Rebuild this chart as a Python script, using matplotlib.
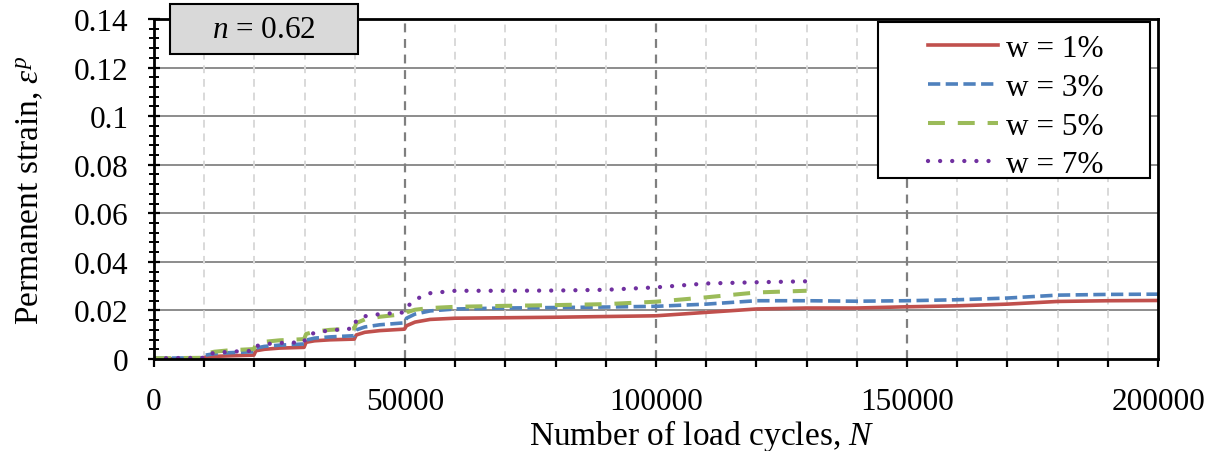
import matplotlib
matplotlib.use('Agg')
import matplotlib.pyplot as plt
from matplotlib.ticker import MultipleLocator, FuncFormatter
from matplotlib.patches import Rectangle

plt.rcParams['font.family'] = ['Liberation Serif', 'DejaVu Serif']
plt.rcParams['mathtext.fontset'] = 'custom'
plt.rcParams['mathtext.rm'] = 'Liberation Serif'
plt.rcParams['mathtext.it'] = 'Liberation Serif:italic'

# load cycles (shared for first 130000 cycles)
cycles = [0, 9900, 10300, 12000, 15000, 19900, 20300, 22000, 25000, 29900,
          30300, 32000, 35000, 39900, 40300, 42000, 45000, 49900, 50300,
          52000, 55000, 60000, 70000, 80000, 90000, 100000, 110000, 120000, 130000]
cycles_long = cycles + [140000, 150000, 160000, 170000, 180000, 190000, 200000]

w1 = [0.0, 0.0003, 0.0008, 0.0011, 0.0013, 0.0016, 0.0034, 0.0040, 0.0045, 0.0048,
      0.0069, 0.0075, 0.0079, 0.0082, 0.0099, 0.0110, 0.0117, 0.0123, 0.0137,
      0.0152, 0.0163, 0.0168, 0.0170, 0.0172, 0.0175, 0.0178, 0.0192, 0.0206, 0.0210,
      0.0210, 0.0215, 0.0219, 0.0226, 0.0237, 0.0240, 0.0241]
w3 = [0.0003, 0.0005, 0.0016, 0.0022, 0.0026, 0.0030, 0.0045, 0.0052, 0.0057, 0.0062,
      0.0078, 0.0086, 0.0091, 0.0096, 0.0120, 0.0132, 0.0141, 0.0149, 0.0168,
      0.0185, 0.0198, 0.0206, 0.0210, 0.0212, 0.0214, 0.0217, 0.0226, 0.0240, 0.0240,
      0.0238, 0.0240, 0.0244, 0.0251, 0.0263, 0.0266, 0.0267]
w5 = [0.0003, 0.0005, 0.0022, 0.0030, 0.0036, 0.0041, 0.0060, 0.0071, 0.0077, 0.0082,
      0.0103, 0.0113, 0.0120, 0.0126, 0.0148, 0.0163, 0.0174, 0.0185, 0.0192,
      0.0203, 0.0210, 0.0215, 0.0219, 0.0222, 0.0226, 0.0236, 0.0254, 0.0274, 0.0281]
w7 = [0.0003, 0.0005, 0.0018, 0.0025, 0.0030, 0.0034, 0.0053, 0.0061, 0.0066, 0.0069,
      0.0094, 0.0108, 0.0118, 0.0126, 0.0162, 0.0176, 0.0185, 0.0192, 0.0212,
      0.0245, 0.0271, 0.0281, 0.0281, 0.0282, 0.0285, 0.0295, 0.0311, 0.0316, 0.0320]

fs = 22.5
fig = plt.figure(figsize=(12.19, 4.52), dpi=100)
ax = fig.add_axes([0.1263, 0.2035, 0.8237, 0.7523])

# grid
for yv in [0.02, 0.04, 0.06, 0.08, 0.10, 0.12]:
    ax.axhline(yv, color='#8c8c8c', lw=1.4, zorder=1)
for xv in range(10000, 200000, 10000):
    if xv % 50000 == 0:
        ax.axvline(xv, color='#7f7f7f', lw=1.6, ls=(0, (4, 3)), zorder=1)
    else:
        ax.axvline(xv, color='#d9d9d9', lw=1.4, ls=(0, (4, 3)), zorder=1)

ax.plot(cycles_long, w1, color='#c0504d', lw=2.6, label='w = 1%', zorder=3)
ax.plot(cycles_long, w3, color='#4f81bd', lw=2.6, ls=(0, (3.4, 1.5)), label='w = 3%', zorder=3)
ax.plot(cycles, w5, color='#9bbb59', lw=2.9, ls=(0, (4.2, 3.2)), label='w = 5%', zorder=3)
ax.plot(cycles, w7, color='#7030a0', lw=3.1, ls=(0, (0.01, 2.8)),
        dash_capstyle='round', label='w = 7%', zorder=3)

ax.set_xlim(0, 200000)
ax.set_ylim(0, 0.14)
ax.xaxis.set_major_locator(MultipleLocator(50000))
ax.xaxis.set_minor_locator(MultipleLocator(10000))
ax.yaxis.set_major_locator(MultipleLocator(0.02))
ax.yaxis.set_minor_locator(MultipleLocator(0.004))
ax.yaxis.set_major_formatter(FuncFormatter(lambda v, p: '%g' % round(v, 3)))
ax.xaxis.set_major_formatter(FuncFormatter(lambda v, p: '%d' % v))
ax.tick_params(axis='x', which='both', direction='out', length=6, width=1.6,
               labelsize=fs, pad=14)
ax.tick_params(axis='y', which='major', direction='inout', length=9, width=1.6,
               labelsize=fs, pad=14)
ax.tick_params(axis='y', which='minor', direction='inout', length=7, width=1.4)
for s in ax.spines.values():
    s.set_linewidth(2)
    s.set_zorder(5)

ax.set_xlabel('Number of load cycles, $N$', fontsize=24, va='center')
ax.xaxis.set_label_coords(0.546, -0.222)
ax.set_ylabel(r'Permanent strain, $\varepsilon^p$', fontsize=24, va='center')
ax.yaxis.set_label_coords(-0.1235, 0.5)

# annotation box
ax.add_patch(Rectangle((0.0159, 0.897), 0.1873, 0.147, transform=ax.transAxes,
                       fc='#d9d9d9', ec='black', lw=1.5, clip_on=False, zorder=6))
ax.text(0.1096, 0.968, '$n$ = 0.62', transform=ax.transAxes, fontsize=fs,
        ha='center', va='center', zorder=7, clip_on=False)

# legend with a separate frame
ax.add_patch(Rectangle((0.7211, 0.5324), 0.2709, 0.4588, transform=ax.transAxes,
                       fc='white', ec='black', lw=1.5, zorder=6))
leg = ax.legend(loc='upper left', fontsize=fs, frameon=False, handlelength=2.25,
                borderpad=0, borderaxespad=0, labelspacing=0.31, handletextpad=0.25,
                bbox_to_anchor=(0.771, 0.955))
leg.set_zorder(7)

fig.savefig('out.png', dpi=100)
